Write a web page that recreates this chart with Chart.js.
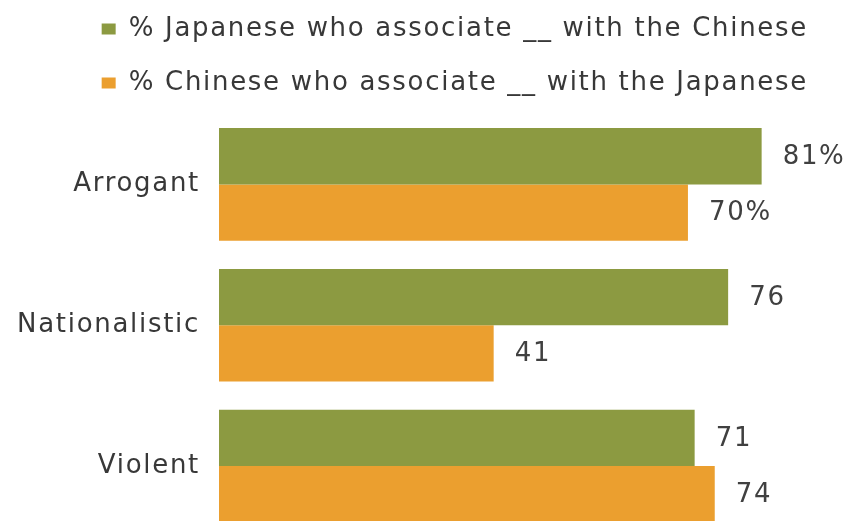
<!DOCTYPE html>
<html>
<head>
<meta charset="utf-8">
<script src="https://cdn.jsdelivr.net/npm/chart.js@4.4.1/dist/chart.umd.min.js"></script>
<style>
  html, body { margin: 0; padding: 0; background: #fff; overflow: hidden; }
  canvas { display: block; }
</style>
</head>
<body>
<!-- taller than the window on purpose: the last bar runs off the bottom like in the source -->
<canvas id="chart" width="853" height="571"></canvas>
<script>
var categories = ["Arrogant", "Nationalistic", "Violent"];
var japaneseOnChinese = [81, 76, 71];
var chineseOnJapanese = [70, 41, 74];
var seriesNames = [
	"% Japanese who associate __ with the Chinese",
	"% Chinese who associate __ with the Japanese"
];

var GREEN = "#8c9a41";
var ORANGE = "#eb9f2f";
var TEXT = "#383838";

// the source font is loosely spaced, canvas can do that too
var spacing = {
	id: 'spacing',
	beforeLayout: function(chart) { chart.ctx.letterSpacing = "1.7px"; },
	beforeDraw: function(chart) { chart.ctx.letterSpacing = "1.7px"; }
};

// a bit more room under the legend
var legendGap = {
	id: 'legendGap',
	beforeInit: function(chart) {
		var fit = chart.legend.fit;
		chart.legend.fit = function() {
			fit.call(this);
			this.height += 8;
		};
	}
};

// numbers at the end of each bar, first row gets the % sign
var barValues = {
	id: 'barValues',
	afterDatasetsDraw: function(chart) {
		var ctx = chart.ctx;
		ctx.save();
		ctx.font = "26px 'DejaVu Sans'";
		ctx.fillStyle = "#404040";
		ctx.textAlign = "left";
		ctx.textBaseline = "middle";
		chart.data.datasets.forEach(function(ds, d) {
			chart.getDatasetMeta(d).data.forEach(function(bar, i) {
				var txt = i === 0 ? ds.data[i] + "%" : String(ds.data[i]);
				ctx.fillText(txt, bar.x + 21, bar.y + 1);
			});
		});
		ctx.restore();
	}
};

var ctx = document.getElementById('chart').getContext('2d');
var chart = new Chart(ctx, {
	type: 'bar',
	data: {
		labels: categories,
		datasets: [{
			label: seriesNames[0],
			backgroundColor: GREEN,
			data: japaneseOnChinese,
			borderWidth: 0
		}, {
			label: seriesNames[1],
			backgroundColor: ORANGE,
			data: chineseOnJapanese,
			borderWidth: 0
		}]
	},
	options: {
		indexAxis: 'y',
		responsive: false,
		animation: false,
		categoryPercentage: 0.8,
		barPercentage: 1.0,
		layout: {
			padding: { top: -12, left: 0, right: 17, bottom: 0 }
		},
		scales: {
			x: { display: false, min: 0, max: 92.1 },
			y: {
				grid: { display: false, drawTicks: false },
				border: { display: false },
				ticks: {
					padding: 19,
					color: TEXT,
					font: { family: "'DejaVu Sans'", size: 26 }
				},
				afterFit: function(scale) { scale.width = 219; }
			}
		},
		plugins: {
			legend: {
				position: 'top',
				align: 'end',
				labels: {
					boxWidth: 14,
					boxHeight: 11,
					padding: 28,
					color: TEXT,
					font: { family: "'DejaVu Sans'", size: 26 }
				}
			},
			tooltip: { enabled: false }
		}
	},
	plugins: [spacing, legendGap, barValues]
});
</script>
</body>
</html>
